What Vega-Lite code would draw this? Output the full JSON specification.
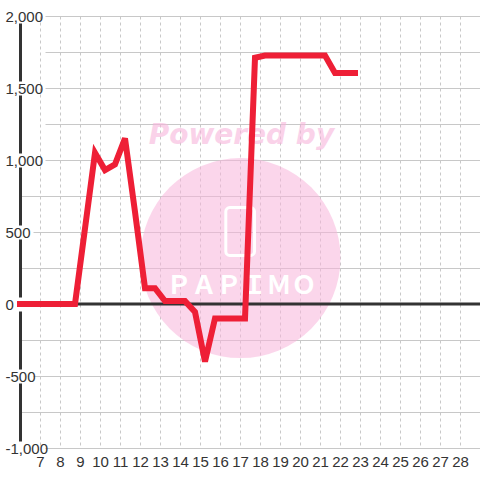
{
  "$schema": "https://vega.github.io/schema/vega-lite/v6.json",
  "width": 460,
  "height": 432,
  "autosize": {"type": "none"},
  "padding": {"left": 20, "top": 16, "right": 0, "bottom": 32},
  "background": "#ffffff",
  "config": {"view": {"stroke": null}, "font": "Liberation Sans"},
  "layer": [
    {
      "data": {"values": [{}]},
      "mark": {"type": "point", "shape": "circle", "filled": true, "color": "#f7b5db", "opacity": 0.55, "size": 40000},
      "encoding": {
        "x": {"datum": 17.025, "type": "quantitative"},
        "y": {"datum": 319, "type": "quantitative"}
      }
    },
    {
      "data": {"values": [{}]},
      "mark": {"type": "text", "text": "Powered by", "font": "DejaVu Sans", "fontWeight": "bold", "fontStyle": "italic", "fontSize": 28, "color": "#f7b5db", "opacity": 0.6},
      "encoding": {
        "x": {"datum": 17.07, "type": "quantitative"},
        "y": {"datum": 1167, "type": "quantitative"}
      }
    },
    {
      "data": {"values": [{}]},
      "mark": {"type": "rect", "filled": false, "stroke": "#ffffff", "strokeWidth": 3, "cornerRadius": 4},
      "encoding": {
        "x": {"datum": 16.29, "type": "quantitative"},
        "x2": {"datum": 17.725},
        "y": {"datum": 670, "type": "quantitative"},
        "y2": {"datum": 337}
      }
    },
    {
      "data": {"values": [{}]},
      "mark": {"type": "text", "text": "ＰＡＰＩＭＯ", "font": "Noto Sans CJK JP", "fontWeight": "bold", "fontSize": 25, "color": "#ffffff"},
      "encoding": {
        "x": {"datum": 17.07, "type": "quantitative"},
        "y": {"datum": 125, "type": "quantitative"}
      }
    },
    {
      "data": {"values": [{}]},
      "mark": {"type": "rule", "color": "#333333", "strokeWidth": 3},
      "encoding": {
        "y": {"datum": 0, "type": "quantitative"}
      }
    },
    {
      "data": {
        "values": [
          {"x": 5.85, "y": 0},
          {"x": 8.75, "y": 0},
          {"x": 9.75, "y": 1050},
          {"x": 10.25, "y": 930},
          {"x": 10.75, "y": 970},
          {"x": 11.25, "y": 1150},
          {"x": 11.75, "y": 640},
          {"x": 12.25, "y": 110},
          {"x": 12.75, "y": 110},
          {"x": 13.25, "y": 20},
          {"x": 13.75, "y": 20},
          {"x": 14.25, "y": 20},
          {"x": 14.75, "y": -55},
          {"x": 15.25, "y": -400},
          {"x": 15.75, "y": -100},
          {"x": 16.25, "y": -100},
          {"x": 16.75, "y": -100},
          {"x": 17.25, "y": -100},
          {"x": 17.75, "y": 1710},
          {"x": 18.25, "y": 1725},
          {"x": 18.75, "y": 1725},
          {"x": 19.25, "y": 1725},
          {"x": 19.75, "y": 1725},
          {"x": 20.25, "y": 1725},
          {"x": 20.75, "y": 1725},
          {"x": 21.25, "y": 1725},
          {"x": 21.75, "y": 1605},
          {"x": 22.25, "y": 1605},
          {"x": 22.9, "y": 1605}
        ]
      },
      "mark": {"type": "line", "color": "#ee1f36", "strokeWidth": 6, "clip": false},
      "encoding": {
        "x": {
          "field": "x",
          "type": "quantitative",
          "scale": {"domain": [6, 29], "nice": false, "zero": false},
          "axis": {
            "values": [7, 8, 9, 10, 11, 12, 13, 14, 15, 16, 17, 18, 19, 20, 21, 22, 23, 24, 25, 26, 27, 28],
            "tickCount": 23,
            "format": "d",
            "title": null,
            "domain": false,
            "ticks": false,
            "grid": true,
            "labelFontSize": 15,
            "labelColor": "#333333",
            "labelPadding": 6,
            "labelFlush": false,
            "labelOverlap": false,
            "gridColor": "#c8c8c8",
            "gridDash": [3, 3],
            "gridWidth": 1
          }
        },
        "y": {
          "field": "y",
          "type": "quantitative",
          "scale": {"domain": [-1000, 2000], "nice": false, "zero": false},
          "axis": {
            "values": [-1000, -750, -500, -250, 0, 250, 500, 750, 1000, 1250, 1500, 1750, 2000],
            "tickCount": 13,
            "labelExpr": "datum.value % 500 == 0 ? replace(format(datum.value, ','), '−', '-') : ''",
            "title": null,
            "ticks": false,
            "grid": true,
            "domainColor": "#333333",
            "domainWidth": 3,
            "domainDash": [58, 14],
            "domainDashOffset": 65,
            "labelAlign": "left",
            "labelPadding": 15,
            "labelFontSize": 15,
            "labelColor": "#333333",
            "labelFlush": false,
            "labelOverlap": false,
            "gridColor": "#c8c8c8",
            "gridWidth": 1,
            "gridDash": {
              "condition": [
                {"test": "abs(datum.value) >= 1000", "value": [0, 25, 1000]},
                {"test": "abs(datum.value) == 500", "value": [0, 13, 1000]}
              ],
              "value": []
            }
          }
        }
      }
    }
  ]
}
